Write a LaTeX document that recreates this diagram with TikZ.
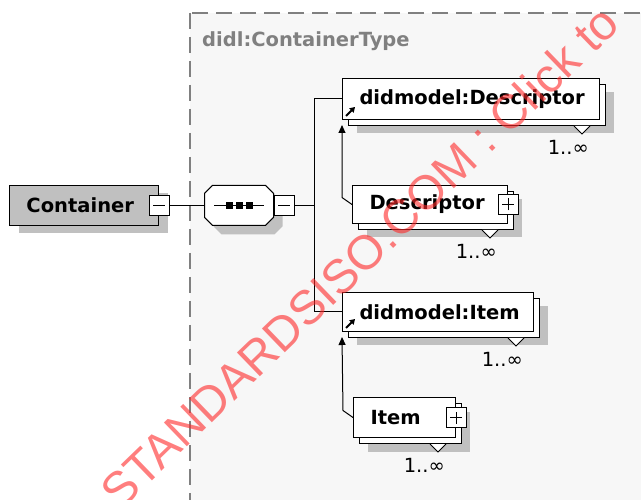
\documentclass[tikz,border=0pt]{standalone}
\usepackage{fontspec}
\setmainfont{DejaVu Sans}
\newfontfamily\stampfont{Liberation Sans}
\usetikzlibrary{positioning, shadows, arrows.meta}

\definecolor{framegray}{RGB}{247,247,247}
\definecolor{dashgray}{RGB}{128,128,128}
\definecolor{shadegray}{RGB}{192,192,192}
\definecolor{boxgray}{RGB}{192,192,192}
\definecolor{stampred}{RGB}{255,40,40}

\tikzset{
  diafont/.style={font=\fontsize{19.5}{23}\selectfont\bfseries},
  elem/.style={draw, fill=white, line width=1pt, inner xsep=17pt, inner ysep=0pt,
    minimum height=40pt, align=left, anchor=north west, diafont},
  single/.style={drop shadow={shadow xshift=9pt, shadow yshift=-8pt, fill=shadegray, opacity=1}},
  multi/.style={drop shadow={shadow xshift=14pt, shadow yshift=-14pt, fill=shadegray, opacity=1},
    copy shadow={shadow xshift=6pt, shadow yshift=-6pt, draw=black, fill=white}},
  minusbox/.style={draw, fill=white, line width=1pt, minimum size=20pt, inner sep=0pt,
    path picture={\draw ([xshift=4pt]path picture bounding box.west) -- ([xshift=-4pt]path picture bounding box.east);}},
  plusbox/.style={draw, fill=white, line width=1pt, minimum size=20pt, inner sep=0pt,
    path picture={\draw ([xshift=4pt]path picture bounding box.west) -- ([xshift=-4pt]path picture bounding box.east);
      \draw ([yshift=4pt]path picture bounding box.south) -- ([yshift=-4pt]path picture bounding box.north);}},
  seqspot/.style={minimum width=69pt, minimum height=40pt, inner sep=0pt},
  shadefill/.style={fill=shadegray},
  octline/.style={draw, fill=white, line width=1pt},
  occurs/.style={font=\fontsize{19.5}{23}\selectfont, inner sep=0pt, anchor=north east},
  notch/.style={draw, fill=white, line width=1pt},
  link/.style={line width=1pt},
  subst/.style={line width=1pt, -{Triangle[width=7pt,length=8pt]}},
  refmark/.style={line width=2pt, -{Triangle[width=6pt,length=5pt]}},
}

\begin{document}
\begin{tikzpicture}[x=1pt, y=-1pt]
\useasboundingbox (0,0) rectangle (641,500);
\clip (0,0) rectangle (641,500);

% complex type frame
\draw[dashgray, fill=framegray, line width=1.5pt, dash pattern=on 16pt off 8pt] (190,13) rectangle (680,540);
\node[anchor=west, text=dashgray, diafont, inner sep=0pt] (typename) at (202,41) {didl:ContainerType};

% root element and sequence
\node[elem, single, fill=boxgray, text width=115pt] (container) at (9,185) {Container};
\node[minusbox] (contminus) at (container.east) {};
\node[seqspot, right=35pt of contminus] (seq) {};
\foreach \sx/\sy/\look in {17/-9/shadefill, 8/0/octline}
  \path[\look] ([xshift=\sx pt,yshift=\sy pt]seq.north west) -- ++(53,0) -- ++(8,8) -- ++(0,24)
    -- ++(-8,8) -- ++(-53,0) -- ++(-8,-8) -- ++(0,-24) -- cycle;
\draw[link] ([xshift=-25pt]seq.center) -- ([xshift=25pt]seq.center);
\foreach \dx in {-10,0,10}
  \fill ([xshift=\dx pt]seq.center) +(-3.5,-3.5) rectangle +(3.5,3.5);
\node[minusbox, right=0pt of seq] (seqminus) {};

% children
\node[elem, multi, text width=223pt, minimum height=41pt] (descref) at (342,78) {didmodel:Descriptor};
\node[elem, multi, text width=121pt, minimum height=38pt] (descr) at (352,185) {Descriptor};
\node[plusbox] (descrplus) at (descr.east) {};
\node[elem, multi, text width=157pt, minimum height=39pt] (itemref) at (342,292) {didmodel:Item};
\node[elem, multi, text width=68pt] (item) at (353,397) {Item};
\node[plusbox] (itemplus) at (item.east) {};

% occurrence marks
\foreach \n in {descref, descr, itemref, item} {
  \path[notch] ([xshift=-26pt,yshift=-6pt]\n.south east) -- ++(8,8) -- ++(8,-8);
  \node[occurs] (\n occ) at ([xshift=-11pt,yshift=-20pt]\n.south east) {1..∞};
}

% reference arrows
\draw[refmark] ([xshift=4pt,yshift=4pt]descref.south west) -- ++(9,-9);
\draw[refmark] ([xshift=4pt,yshift=4pt]itemref.south west) -- ++(9,-9);

% connectors
\draw[link] (contminus.east) -- (seq.west);
\draw[link] (seqminus.east) -- ++(20,0) coordinate (fork);
\draw[link] (descref.west) -| (fork) |- (itemref.west);
\draw[subst] (descr.west) -- ++(-10,-7) -- ([yshift=-5pt]descref.south west);
\draw[subst] (item.west) -- ++(-10,-7) -- ([yshift=-5pt]itemref.south west);

% watermark
\node[anchor=base west, rotate=44, inner sep=0pt, text=stampred, text opacity=.6,
  font=\fontsize{48}{58}\selectfont\stampfont] (stamp) at (120,512) {STANDARDSISO.COM : Click to};
\end{tikzpicture}
\end{document}
